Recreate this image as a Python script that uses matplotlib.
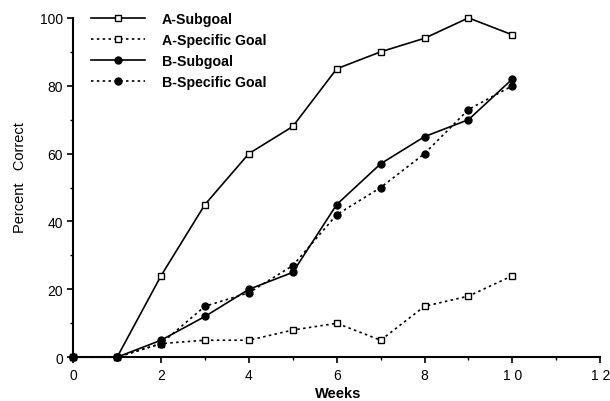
import matplotlib
matplotlib.use("Agg")
import matplotlib.pyplot as plt
from matplotlib.ticker import MultipleLocator

# data
weeks = [0, 1, 2, 3, 4, 5, 6, 7, 8, 9, 10]
a_subgoal = [0, 0, 24, 45, 60, 68, 85, 90, 94, 100, 95]
a_specific = [0, 0, 4, 5, 5, 8, 10, 5, 15, 18, 24]
b_subgoal = [0, 0, 5, 12, 20, 25, 45, 57, 65, 70, 82]
b_specific = [0, 0, 4, 15, 19, 27, 42, 50, 60, 73, 80]

x_ticks = [0, 2, 4, 6, 8, 10, 12]
x_ticklabels = ["0", "2", "4", "6", "8", "1 0", "1 2"]

plt.rcParams["font.family"] = ["Liberation Sans", "DejaVu Sans"]

fig = plt.figure(figsize=(6.10, 4.02), dpi=100)
ax = fig.add_axes([0.120, 0.109, 0.864, 0.844])

dot = (0, (1.5, 2))
kw = dict(color="black", lw=1.2, markersize=5, clip_on=False)
ax.plot(weeks, a_subgoal, "-", marker="s", mfc="white", mec="black", label="A-Subgoal", **kw)
ax.plot(weeks, a_specific, linestyle=dot, marker="s", mfc="white", mec="black", label="A-Specific Goal", **kw)
ax.plot(weeks, b_subgoal, "-", marker="o", mfc="black", mec="black", label="B-Subgoal", **kw)
ax.plot(weeks, b_specific, linestyle=dot, marker="o", mfc="black", mec="black", label="B-Specific Goal", **kw)

ax.set_xlim(0, 12)
ax.set_ylim(0, 100)
ax.set_xticks(x_ticks)
ax.set_xticklabels(x_ticklabels)
ax.xaxis.set_minor_locator(MultipleLocator(1))
ax.yaxis.set_major_locator(MultipleLocator(20))
ax.yaxis.set_minor_locator(MultipleLocator(10))
ax.tick_params(which="major", direction="out", length=4, width=1.2, labelsize=10)
ax.tick_params(which="minor", direction="out", length=2, width=1)

for s in ["top", "right"]:
    ax.spines[s].set_visible(False)
for s in ["left", "bottom"]:
    ax.spines[s].set_linewidth(1.5)

# axis titles placed where they sit in the original
fig.text(338 / 610, 1 - 394 / 402, "Weeks", fontsize=10.5, fontweight="bold",
         ha="center", va="center")
fig.text(20 / 610, 1 - 178 / 402, "Percent   Correct", fontsize=10.5,
         rotation=90, ha="center", va="center")

leg = ax.legend(loc="upper left", bbox_to_anchor=(0.01, 1.055), frameon=False,
                fontsize=10.2, handlelength=3.8, handletextpad=1.2, labelspacing=0.5)
for t in leg.get_texts():
    t.set_fontweight("bold")

fig.savefig("out.png", dpi=100)
